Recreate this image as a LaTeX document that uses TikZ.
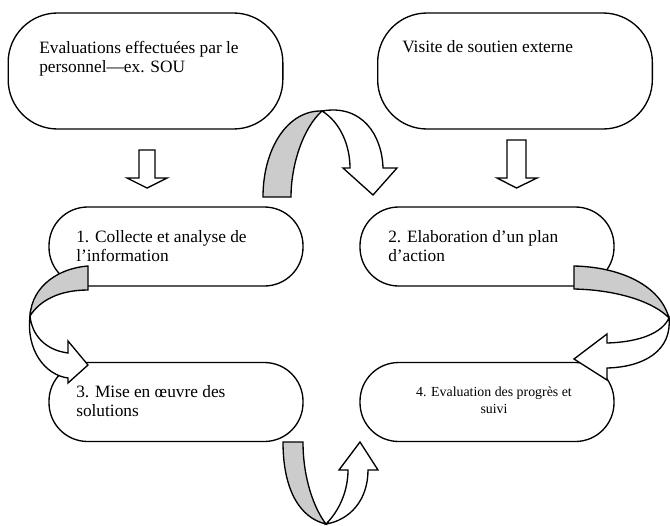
\documentclass[tikz,border=0pt]{standalone}
\usepackage{fontspec}
\setmainfont{Liberation Serif}
\begin{document}
\begin{tikzpicture}[x=0.75pt,y=-0.75pt,
  outline/.style={draw=black, line width=1pt, line join=miter},
  bigbox/.style={outline, rectangle, rounded corners=37pt, inner sep=0pt,
    minimum width=206pt, minimum height=87pt},
  stepbox/.style={outline, rectangle, rounded corners=29pt, inner sep=0pt,
    minimum width=190.5pt, minimum height=59.25pt},
  % multi-line labels are placed by the baseline of their last line
  label/.style={inner sep=0pt, anchor=base west, align=left,
    font=\fontsize{13}{14.25}\selectfont},
  front/.style={outline, fill=white},
  back/.style={outline, fill=black!20}]
\useasboundingbox (0,0) rectangle (670,525);

% source boxes
\node[bigbox] (staff) at (145.5,71) {};
\node[bigbox] (visit) at (515,71) {};
\node[label] (stafftxt) at (39,72) {Evaluations effectuées par le\\personnel—ex. SOU};
\node[label] (visittxt) at (402,52) {Visite de soutien externe};

% cycle steps
\node[stepbox] (s1) at (176,246.5) {};
\node[stepbox] (s2) at (487,246.5) {};
\node[stepbox] (s3) at (176,402) {};
\node[stepbox] (s4) at (487,402) {};
\node[label] (t1) at (76,261) {1. Collecte et analyse de\\l’information};
\node[label] (t2) at (388,261) {2. Elaboration d’un plan\\d’action};
\node[label] (t3) at (76,416) {3. Mise en œuvre des\\solutions};
\node[inner sep=0pt, anchor=base, align=center,
  font=\fontsize{10.4}{12.75}\selectfont] (t4) at (494,413)
  {4. Evaluation des progrès et\\suivi};

% straight block arrows from the source boxes
\draw[front] (139,150) -- (155,150) -- (155,178) -- (167,178) -- (147,188)
  -- (127,178) -- (139,178) -- cycle;
\draw[front] (507,140) -- (526,140) -- (526,178) -- (537,178) -- (516.5,188)
  -- (497,178) -- (507,178) -- cycle;

% curved arrow: staff evaluations -> step 2
\draw[front] (322,111) .. controls (362,104) and (382,135) .. (383,168)
  -- (397,168) -- (373,195) -- (343,168) -- (350,168)
  .. controls (350,145) and (340,122) .. (322,111) -- cycle;
\draw[back] (263,197) .. controls (263,148) and (288,110) .. (322,111)
  .. controls (303,128) and (291,165) .. (291,197) -- cycle;

% curved arrow: step 1 -> step 3
\draw[front] (30,316) .. controls (26,350) and (45,375) .. (68,378)
  -- (68,383) -- (88,365) -- (68,341) -- (68,353)
  .. controls (45,350) and (32,335) .. (30,316) -- cycle;
\draw[back] (88,266) .. controls (60,268) and (32,285) .. (30,316)
  .. controls (40,300) and (60,290) .. (88,290) -- cycle;

% curved arrow: step 2 -> step 4
\draw[front] (669,318) .. controls (672,350) and (645,367) .. (607,368)
  -- (607,380) -- (574,359) -- (607,334) -- (607,343)
  .. controls (640,342) and (662,333) .. (669,318) -- cycle;
\draw[back] (574,266) .. controls (620,267) and (660,285) .. (669,318)
  .. controls (655,303) and (620,290) .. (574,289) -- cycle;

% curved arrow: step 3 -> step 4
\draw[front] (326,524) .. controls (340,510) and (348,490) .. (348,470)
  -- (339,470) -- (360,442) -- (378,470) -- (368,470)
  .. controls (368,500) and (350,520) .. (326,524) -- cycle;
\draw[back] (283,442) .. controls (283,490) and (300,518) .. (326,524)
  .. controls (315,510) and (303,480) .. (303,442) -- cycle;
\end{tikzpicture}
\end{document}
